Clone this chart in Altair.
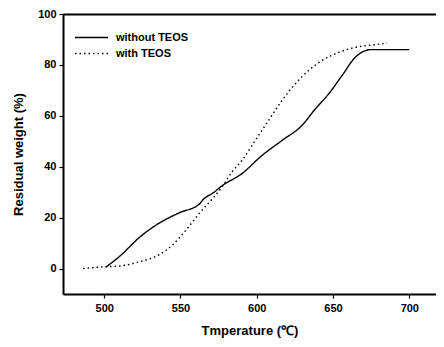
import altair as alt
import pandas as pd

# without TEOS (solid)
t_without = [501, 510.3, 523.4, 536.5, 549.6, 562.1, 565, 571.6, 577, 590.3, 603.4, 616.5,
             629.6, 638.4, 647.1, 655.9, 664.6, 671.2, 674.4, 700]
w_without = [0.5, 4.9, 12.4, 18.0, 22.0, 25.2, 27.2, 29.8, 32.4, 37.3, 44.4, 50.3,
             56.2, 62.7, 68.6, 75.8, 83.0, 85.6, 86.0, 86.0]
# with TEOS (dotted)
t_with = [486.2, 500, 510.3, 523.4, 536.5, 545.2, 554, 562.8, 571.5, 577, 583.7, 590.3, 599,
          607.8, 616.5, 625.2, 634, 642.7, 653.7, 664.6, 675.5, 685.4]
w_with = [0.0, 0.7, 1.0, 2.7, 5.6, 9.5, 15.4, 22.0, 27.8, 31.8, 37.9, 42.5, 50.3,
          58.2, 66.0, 72.5, 77.8, 81.7, 84.9, 86.9, 87.8, 88.5]

series_names = ["without TEOS", "with TEOS"]
x_ticks = [500, 550, 600, 650, 700]
y_ticks = [0, 20, 40, 60, 80, 100]

df = pd.concat([
    pd.DataFrame({"T": t_without, "W": w_without, "s": series_names[0], "o": range(len(t_without))}),
    pd.DataFrame({"T": t_with, "W": w_with, "s": series_names[1], "o": range(len(t_with))}),
])

FONT = "Liberation Sans"

xscale = alt.Scale(domain=[473, 717.5], nice=False, zero=False)
yscale = alt.Scale(domain=[-10, 100], nice=False, zero=False)

lines = alt.Chart(df).mark_line(color="black", strokeWidth=1.4, interpolate="monotone").encode(
    x=alt.X("T:Q", scale=xscale,
            axis=alt.Axis(values=x_ticks, title="Tmperature (\u2103)", titlePadding=11,
                          tickSize=4, labelPadding=4)),
    y=alt.Y("W:Q", scale=yscale,
            axis=alt.Axis(values=y_ticks, title="Residual weight (%)", titlePadding=12,
                          tickSize=4, labelPadding=3)),
    strokeDash=alt.StrokeDash("s:N", scale=alt.Scale(domain=series_names, range=[[1, 0], [1.5, 3]]),
                              legend=alt.Legend(title=None, orient="none", legendX=11, legendY=17,
                                                symbolType="stroke", symbolSize=1089, clipHeight=13,
                                                symbolStrokeColor="black", symbolStrokeWidth=1.4,
                                                labelOffset=7, padding=0,
                                                labelFont=FONT, labelFontSize=11, labelFontWeight="bold",
                                                labelColor="black", rowPadding=3)),
    order="o:Q",
)

top = alt.Chart(pd.DataFrame({"T": [500]})).mark_point(opacity=0).encode(
    x=alt.X("T:Q", scale=xscale, axis=alt.Axis(orient="top", labels=False, ticks=False, title=None,
                                               domainWidth=2, domainColor="black")),
)

chart = alt.layer(lines, top).resolve_axis(x="independent").properties(
    width=373, height=280,
    autosize="none",
    padding={"left": 55, "top": 6, "right": 0, "bottom": 45},
).configure_view(stroke=None).configure_axis(
    domainColor="black", domainWidth=2, tickColor="black", tickWidth=1.2,
    labelFont=FONT, labelFontSize=11, labelFontWeight="bold", labelColor="black",
    titleFont=FONT, titleFontSize=13, titleFontWeight="bold", titleColor="black",
    grid=False,
)

chart.save("out.html", embed_options={"renderer": "svg", "actions": False})
